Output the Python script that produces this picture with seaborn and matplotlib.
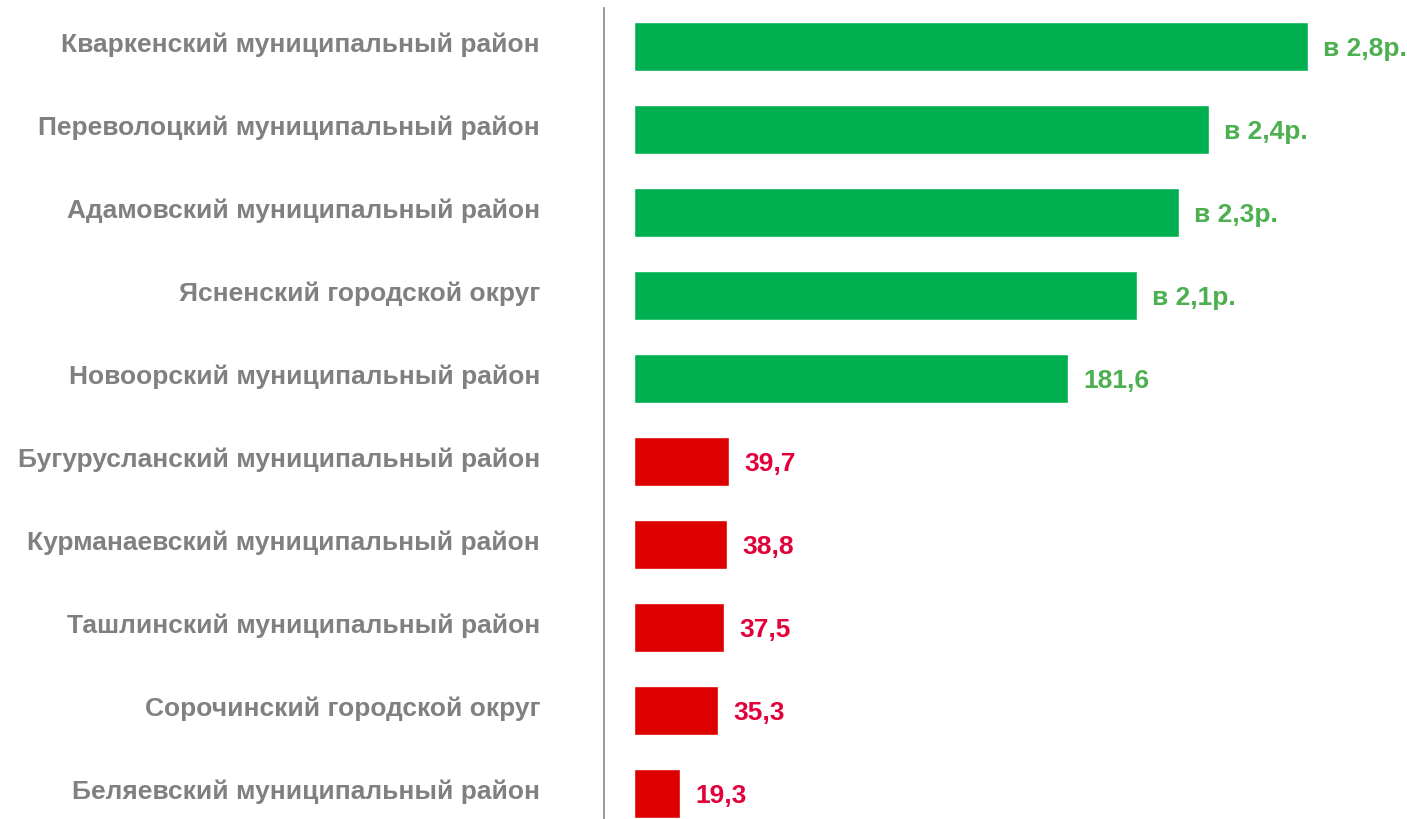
import matplotlib
matplotlib.use("Agg")
import matplotlib.pyplot as plt
import matplotlib.transforms as mtransforms
import seaborn as sns
import pandas as pd

# data
districts = [
    "Кваркенский муниципальный район",
    "Переволоцкий муниципальный район",
    "Адамовский муниципальный район",
    "Ясненский городской округ",
    "Новоорский муниципальный район",
    "Бугурусланский муниципальный район",
    "Курманаевский муниципальный район",
    "Ташлинский муниципальный район",
    "Сорочинский городской округ",
    "Беляевский муниципальный район",
]
values = [282.0, 240.6, 228.0, 210.5, 181.6, 39.7, 38.8, 37.5, 35.3, 19.3]
value_labels = ["в 2,8р.", "в 2,4р.", "в 2,3р.", "в 2,1р.", "181,6",
                "39,7", "38,8", "37,5", "35,3", "19,3"]
is_growth = [True, True, True, True, True, False, False, False, False, False]

GREEN_BAR = "#00B050"
RED_BAR = "#DC0000"
GREEN_TXT = "#4CAF50"
RED_TXT = "#E2003A"
GREY = "#808080"

df = pd.DataFrame({"district": districts, "value": values})
bar_colors = [GREEN_BAR if g else RED_BAR for g in is_growth]

sns.set_theme(style="white")
plt.rcParams["font.family"] = ["Liberation Sans", "DejaVu Sans"]

fig = plt.figure(figsize=(14.07, 8.19), dpi=100)
ax = fig.add_axes([604 / 1407, 0, 1 - 604 / 1407, 811 / 819])

sns.barplot(data=df, x="value", y="district", hue="district", palette=bar_colors,
            orient="h", width=0.59, legend=False, ax=ax, saturation=1)

# value labels at the bar ends
for i, (v, lab, g) in enumerate(zip(values, value_labels, is_growth)):
    ax.annotate(lab, xy=(v, i), xytext=(11, -2), textcoords="offset points",
                ha="left", va="center", fontsize=19, fontweight="bold",
                color=GREEN_TXT if g else RED_TXT)

ax.set_xlim(-12.55, 323.4)
ax.set_ylim(9.31, -0.465)
ax.set_xlabel("")
ax.set_ylabel("")
ax.set_xticks([])
ax.tick_params(axis="y", length=0, pad=46)
# district names sit a little above the bar centres
shift_up = mtransforms.ScaledTranslation(0, 4.5 / 100, fig.dpi_scale_trans)
for lbl in ax.get_yticklabels():
    lbl.set_fontsize(19)
    lbl.set_fontweight("bold")
    lbl.set_color(GREY)
    lbl.set_transform(lbl.get_transform() + shift_up)

for s in ["top", "right", "bottom"]:
    ax.spines[s].set_visible(False)
ax.spines["left"].set_color("#888888")
ax.spines["left"].set_linewidth(1.2)

fig.savefig("out.png", dpi=100)
